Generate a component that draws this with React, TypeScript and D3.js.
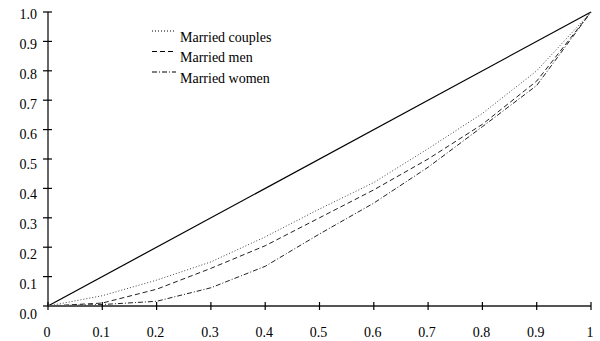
import React, { useEffect, useRef } from "react";
import * as d3 from "d3";

// population share (deciles)
const shares = [0, 0.1, 0.2, 0.3, 0.4, 0.5, 0.6, 0.7, 0.8, 0.9, 1];
const couples = [0, 0.035, 0.088, 0.15, 0.235, 0.33, 0.42, 0.535, 0.655, 0.8, 1];
const men = [0, 0.01, 0.057, 0.128, 0.205, 0.3, 0.395, 0.5, 0.618, 0.765, 1];
const women = [0, 0.005, 0.016, 0.062, 0.135, 0.245, 0.35, 0.472, 0.61, 0.75, 1];

const xTicks = [0, 0.1, 0.2, 0.3, 0.4, 0.5, 0.6, 0.7, 0.8, 0.9, 1];
const xTickLabels = ["0", "0.1", "0.2", "0.3", "0.4", "0.5", "0.6", "0.7", "0.8", "0.9", "1"];
const yTicks = [0, 0.1, 0.2, 0.3, 0.4, 0.5, 0.6, 0.7, 0.8, 0.9, 1];
const yTickLabels = ["0.0", "0.1", "0.2", "0.3", "0.4", "0.5", "0.6", "0.7", "0.8", "0.9", "1.0"];

const seriesNames = ["Married couples", "Married men", "Married women"];
const seriesValues = [couples, men, women];
const dashes = ["1,2", "5,3", "5,2,1,2"];
const strokes = ["#444", "#222", "#222"];

const FONT = "'Liberation Serif', 'Times New Roman', serif";

export default function App() {
  const ref = useRef<SVGSVGElement>(null);

  useEffect(() => {
    const svg = d3.select(ref.current);
    svg.selectAll("*").remove();

    const x = d3.scaleLinear().domain([0, 1]).range([48, 591]);
    const y = d3.scaleLinear().domain([0, 1]).range([306, 12]);
    // label baselines sit a little lower than the ticks and spread a bit more
    const yLabel = d3.scaleLinear().domain([0, 1]).range([318.5, 19.3]);

    // equality line
    svg
      .append("line")
      .attr("x1", x(0))
      .attr("y1", y(0))
      .attr("x2", x(1))
      .attr("y2", y(1))
      .attr("stroke", "#000")
      .attr("stroke-width", 1.2);

    const line = d3
      .line<number>()
      .x((d, i) => x(shares[i]))
      .y((d) => y(d));

    seriesValues.forEach((vals, k) => {
      svg
        .append("path")
        .attr("d", line(vals))
        .attr("fill", "none")
        .attr("stroke", strokes[k])
        .attr("stroke-width", 1)
        .attr("stroke-dasharray", dashes[k]);
    });

    // y axis
    svg
      .append("line")
      .attr("x1", x(0))
      .attr("x2", x(0))
      .attr("y1", y(1))
      .attr("y2", y(0))
      .attr("stroke", "#000")
      .attr("stroke-width", 1.2);

    yTicks.forEach((t, i) => {
      svg
        .append("line")
        .attr("x1", x(0) - 5)
        .attr("x2", x(0) + 4)
        .attr("y1", y(t))
        .attr("y2", y(t))
        .attr("stroke", "#000")
        .attr("stroke-width", 1.2);
      svg
        .append("text")
        .attr("x", 37)
        .attr("y", yLabel(t))
        .attr("text-anchor", "end")
        .attr("font-family", FONT)
        .attr("font-size", 14)
        .attr("fill", "#000")
        .text(yTickLabels[i]);
    });

    // x axis
    svg
      .append("line")
      .attr("x1", x(0))
      .attr("x2", x(1))
      .attr("y1", y(0))
      .attr("y2", y(0))
      .attr("stroke", "#555")
      .attr("stroke-width", 2);

    xTicks.forEach((t, i) => {
      svg
        .append("line")
        .attr("x1", x(t))
        .attr("x2", x(t))
        .attr("y1", y(0) - 4)
        .attr("y2", y(0) + 4)
        .attr("stroke", "#000")
        .attr("stroke-width", 1.2);
      svg
        .append("text")
        .attr("x", x(t) - 1)
        .attr("y", 337)
        .attr("text-anchor", "middle")
        .attr("font-family", FONT)
        .attr("font-size", 14)
        .attr("fill", "#000")
        .text(xTickLabels[i]);
    });

    // legend
    const legend = svg.append("g").attr("transform", "translate(152,31)");
    seriesNames.forEach((name, k) => {
      const g = legend.append("g").attr("transform", `translate(0,${k * 20.5})`);
      g.append("line")
        .attr("x1", 0)
        .attr("x2", 24)
        .attr("y1", 0)
        .attr("y2", 0)
        .attr("stroke", "#000")
        .attr("stroke-width", 1.2)
        .attr("stroke-dasharray", dashes[k]);
      g.append("text")
        .attr("x", 28)
        .attr("y", 10.5)
        .attr("font-family", FONT)
        .attr("font-size", 14)
        .attr("fill", "#000")
        .text(name);
    });
  }, []);

  return (
    <svg
      ref={ref}
      width={600}
      height={341}
      style={{ position: "absolute", left: 0, top: 0, background: "#fff" }}
    />
  );
}
